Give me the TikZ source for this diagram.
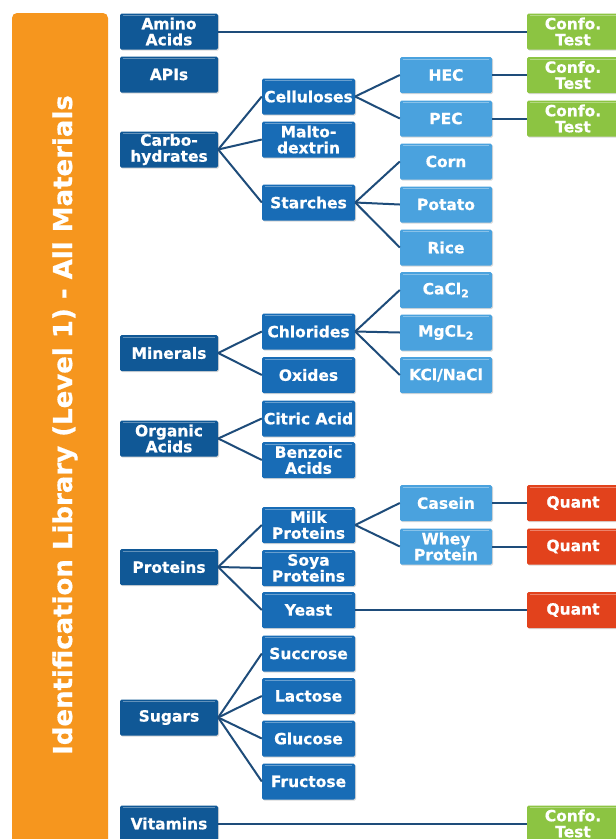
\documentclass[tikz,border=0pt]{standalone}
\usepackage{fontspec}
\setmainfont{DejaVu Sans}
\newfontfamily\grasfont{DejaVu Sans}[BoldFeatures={FakeBold=0.6}]
\usepackage{tikz}
\usetikzlibrary{positioning,shadows}
\definecolor{barre}{RGB}{246,150,30}
\definecolor{niveauA}{RGB}{16,88,150}
\definecolor{niveauB}{RGB}{24,108,182}
\definecolor{niveauC}{RGB}{74,162,222}
\definecolor{confo}{RGB}{140,196,66}
\definecolor{quant}{RGB}{226,66,28}
\definecolor{lien}{RGB}{30,76,122}

\tikzset{
    boite/.style={rounded corners=1.5pt, text=white, align=center,
        font=\grasfont\bfseries\fontsize{15.5}{16}\selectfont,
        minimum height=36pt, inner sep=0pt,
        drop shadow={shadow xshift=1pt, shadow yshift=-1.2pt, opacity=0.3},
        path picture={\draw[white, opacity=0.35, line width=1pt]
            ([xshift=3pt, yshift=-2pt]path picture bounding box.north west) --
            ([xshift=-3pt, yshift=-2pt]path picture bounding box.north east);}},
    niv1/.style={boite, fill=niveauA, minimum width=98pt},
    niv2/.style={boite, fill=niveauB, minimum width=93pt},
    niv3/.style={boite, fill=niveauC, minimum width=92pt},
    vert/.style={boite, fill=confo, minimum width=92pt},
    rouge/.style={boite, fill=quant, minimum width=92pt},
    lien/.style={draw=lien, line width=2pt},
    titre/.style={text=white, font=\grasfont\bfseries\fontsize{26}{28}\selectfont}
}

\begin{document}
\begin{tikzpicture}[x=1pt, y=-1pt]

    % Cadre : 1 unité = 1 px de l'image
    \useasboundingbox (0,0) rectangle (616,839);
    \fill[white] (0,0) rectangle (616,839);

    % Colonnes (centres en x)
    \def\colA{169}
    \def\colB{308.5}
    \def\colC{446}
    \def\colD{573}

    % =========================================================================
    % BANDEAU GAUCHE
    % =========================================================================
    \fill[barre, rounded corners=5pt] (12,13) rectangle (108,870);
    \node[titre, rotate=90, anchor=base] (titre) at (72,425)
        {Identification Library (Level 1) - All Materials};

    % =========================================================================
    % NIVEAU 1
    % =========================================================================
    \node[niv1] (amino)    at (\colA,31.5)  {Amino\\Acids};
    \node[niv1] (apis)     at (\colA,74.5)  {APIs};
    \node[niv1] (carbo)    at (\colA,149.5) {Carbo-\\hydrates};
    \node[niv1] (minerals) at (\colA,353)   {Minerals};
    \node[niv1] (organic)  at (\colA,438.5) {Organic\\Acids};
    \node[niv1] (proteins) at (\colA,567)   {Proteins};
    \node[niv1] (sugars)   at (\colA,717.5) {Sugars};
    \node[niv1] (vitamins) at (\colA,823.5) {Vitamins};

    % =========================================================================
    % NIVEAU 2
    % =========================================================================
    \node[niv2] (cellu)   at (\colB,96.5)  {Celluloses};
    \node[niv2] (malto)   at (\colB,139.5) {Malto-\\dextrin};
    \node[niv2] (starch)  at (\colB,202.5) {Starches};
    \node[niv2] (chlor)   at (\colB,331.5) {Chlorides};
    \node[niv2] (oxides)  at (\colB,375)   {Oxides};
    \node[niv2] (citric)  at (\colB,418.5) {Citric Acid};
    \node[niv2] (benzoic) at (\colB,460)   {Benzoic\\Acids};
    \node[niv2] (milk)    at (\colB,525)   {Milk\\Proteins};
    \node[niv2] (soya)    at (\colB,568)   {Soya\\Proteins};
    \node[niv2] (yeast)   at (\colB,610)   {Yeast};
    \node[niv2] (succ)    at (\colB,653.5) {Succrose};
    \node[niv2] (lact)    at (\colB,696)   {Lactose};
    \node[niv2] (gluc)    at (\colB,738.5) {Glucose};
    \node[niv2] (fruct)   at (\colB,781.5) {Fructose};

    % =========================================================================
    % NIVEAU 3
    % =========================================================================
    \node[niv3] (hec)    at (\colC,75)    {HEC};
    \node[niv3] (pec)    at (\colC,118.5) {PEC};
    \node[niv3] (corn)   at (\colC,161.5) {Corn};
    \node[niv3] (potato) at (\colC,204.5) {Potato};
    \node[niv3] (rice)   at (\colC,247.5) {Rice};
    \node[niv3] (cacl)   at (\colC,290)   {CaCl\textsubscript{2}};
    \node[niv3] (mgcl)   at (\colC,332.5) {MgCL\textsubscript{2}};
    \node[niv3] (kcl)    at (\colC,375)   {KCl/NaCl};
    \node[niv3] (casein) at (\colC,503)   {Casein};
    \node[niv3] (whey)   at (\colC,546.5) {Whey\\Protein};

    % =========================================================================
    % TESTS
    % =========================================================================
    \node[vert]  (confoA) at (\colD,31.5)  {Confo.\\Test};
    \node[vert]  (confoB) at (\colD,75)    {Confo.\\Test};
    \node[vert]  (confoC) at (\colD,118.5) {Confo.\\Test};
    \node[rouge] (quantA) at (\colD,503)   {Quant};
    \node[rouge] (quantB) at (\colD,546.5) {Quant};
    \node[rouge] (quantC) at (\colD,610)   {Quant};
    \node[vert]  (confoD) at (\colD,823.5) {Confo.\\Test};

    % =========================================================================
    % LIENS
    % =========================================================================
    \foreach \p/\e in {carbo/cellu, carbo/malto, carbo/starch,
                       minerals/chlor, minerals/oxides,
                       organic/citric, organic/benzoic,
                       proteins/milk, proteins/soya, proteins/yeast,
                       sugars/succ, sugars/lact, sugars/gluc, sugars/fruct,
                       cellu/hec, cellu/pec,
                       starch/corn, starch/potato, starch/rice,
                       chlor/cacl, chlor/mgcl, chlor/kcl,
                       milk/casein, milk/whey,
                       amino/confoA, hec/confoB, pec/confoC,
                       casein/quantA, whey/quantB, yeast/quantC,
                       vitamins/confoD} {
        \draw[lien] (\p.east) -- (\e.west);
    }

\end{tikzpicture}
\end{document}
